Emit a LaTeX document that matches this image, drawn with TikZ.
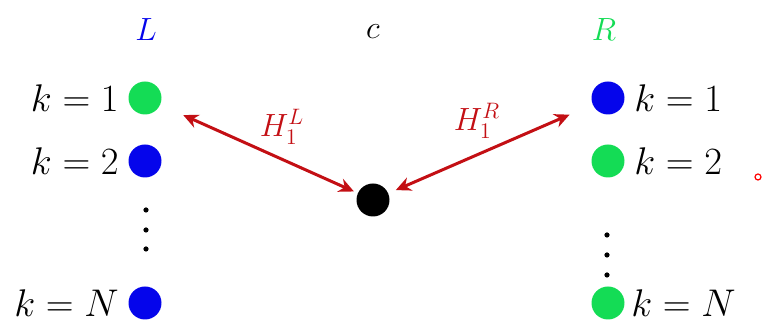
\documentclass[tikz,border=0pt]{standalone}
\usetikzlibrary{arrows.meta}
\definecolor{dotblue}{RGB}{5,5,235}
\definecolor{dotgreen}{RGB}{20,220,85}
\definecolor{arrred}{RGB}{195,15,20}
\newcommand\kval[1]{\scalebox{0.93}{$#1$}}
\newcommand\hval[1]{\scalebox{0.93}{$#1$}}
\begin{document}
\begin{tikzpicture}[x=0.5pt,y=-0.5pt,
  dot/.style={circle,fill=#1,inner sep=0pt,minimum size=16.5pt},
  smalldot/.style={circle,fill=black,inner sep=0pt,minimum size=2.6pt},
  lbl/.style={font=\fontsize{20.74}{24}\selectfont,inner sep=0pt},
  head/.style={font=\fontsize{17.28}{20}\selectfont,inner sep=0pt},
  hlbl/.style={font=\fontsize{17.28}{20}\selectfont,inner sep=0pt,text=arrred},
  arr/.style={{Stealth[length=7.5pt,width=7pt]}-{Stealth[length=7.5pt,width=7pt]},line width=1.5pt,draw=arrred}]
\useasboundingbox (0,0) rectangle (768,324);
% headings
\node[head,text=dotblue] (hL) at (146,30) {\hval{L}};
\node[head] (hc) at (373,32) {\hval{c}};
\node[head,text=dotgreen] (hR) at (604,30) {\hval{R}};
% left column
\node[dot=dotgreen] (l1) at (145,98) {};
\node[dot=dotblue] (l2) at (145,161) {};
\node[dot=dotblue] (lN) at (145,303) {};
\node[smalldot] (ld1) at (146,210) {};
\node[smalldot] (ld2) at (146,230) {};
\node[smalldot] (ld3) at (146,249) {};
\node[lbl,anchor=east] (tl1) at ([xshift=-4.5pt]l1.west) {\kval{k=1}};
\node[lbl,anchor=east] (tl2) at ([xshift=-4.5pt]l2.west) {\kval{k=2}};
\node[lbl,anchor=east] (tlN) at ([xshift=-4.5pt]lN.west) {\kval{k=N}};
% centre
\node[dot=black] (c) at (373,200) {};
% right column
\node[dot=dotblue] (r1) at (608,98) {};
\node[dot=dotgreen] (r2) at (608,161) {};
\node[dot=dotgreen] (rN) at (608,303) {};
\node[smalldot] (rd1) at (607,235) {};
\node[smalldot] (rd2) at (607,255) {};
\node[smalldot] (rd3) at (607,275) {};
\node[lbl,anchor=west] (tr1) at ([xshift=4.5pt]r1.east) {\kval{k=1}};
\node[lbl,anchor=west] (tr2) at ([xshift=4.5pt]r2.east) {\kval{k=2}};
\node[lbl,anchor=west] (trN) at ([xshift=3pt]rN.east) {\kval{k=N}};
% couplings
\draw[arr,shorten <=12.5pt,shorten >=2pt] (l1) -- (c);
\draw[arr,shorten <=12.5pt,shorten >=4pt] (r1) -- (c);
\node[hlbl] (h1L) at (282,127) {\hval{H_1^L}};
\node[hlbl] (h1R) at (477,121) {\hval{H_1^R}};
% pointer mark
\node[circle,draw=red,line width=0.6pt,inner sep=0pt,minimum size=3pt] (ptr) at (758,177) {};
\end{tikzpicture}
\end{document}
